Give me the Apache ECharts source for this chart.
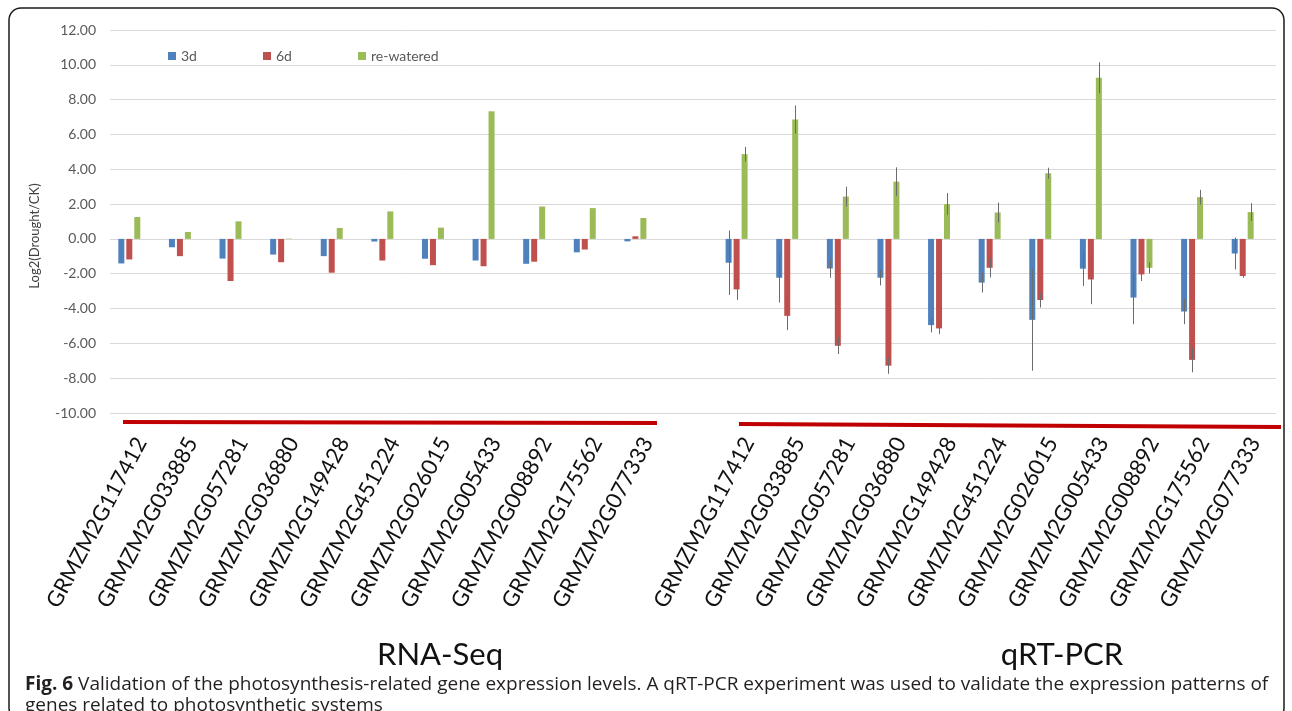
<!DOCTYPE html>
<html>
<head>
<meta charset="utf-8">
<script src="https://cdn.jsdelivr.net/npm/echarts@6/dist/echarts.min.js"></script>
<style>
html,body{margin:0;padding:0;background:#fff;}
#chart{width:1292px;height:711px;}
</style>
</head>
<body>
<div id="chart"></div>
<script>
// ---- data ----
const genes = ['GRMZM2G117412','GRMZM2G033885','GRMZM2G057281','GRMZM2G036880','GRMZM2G149428','GRMZM2G451224','GRMZM2G026015','GRMZM2G005433','GRMZM2G008892','GRMZM2G175562','GRMZM2G077333'];
const seriesNames = ['3d','6d','re-watered'];
const yTicks = {min:-10, max:12, interval:2};

// RNA-Seq (log2 fold change)
const rna3d = [-1.41,-0.48,-1.13,-0.90,-0.99,-0.15,-1.14,-1.24,-1.43,-0.77,-0.14];
const rna6d = [-1.18,-0.99,-2.42,-1.34,-1.94,-1.24,-1.51,-1.57,-1.31,-0.61,0.15];
const rnaRw = [1.26,0.40,1.01,0.02,0.63,1.58,0.65,7.33,1.86,1.77,1.20];

// qRT-PCR
const q3d = [-1.37,-2.23,-1.70,-2.23,-4.95,-2.51,-4.65,-1.71,-3.37,-4.17,-0.84];
const q6d = [-2.90,-4.42,-6.14,-7.28,-5.14,-1.66,-3.51,-2.33,-2.04,-6.95,-2.13];
const qRw = [4.87,6.86,2.43,3.29,2.00,1.52,3.77,9.26,-1.66,2.40,1.54];
const q3dErr = [1.85,1.43,0.53,0.44,0.42,0.57,2.92,1.00,1.53,0.73,0.91];
const q6dErr = [0.60,0.82,0.47,0.47,0.33,0.55,0.43,1.42,0.38,0.71,0.10];
const qRwErr = [0.42,0.81,0.57,0.82,0.63,0.57,0.32,0.89,0.32,0.42,0.51];

// ---- build ----
const categories = genes.concat([''], genes);
const qStart = genes.length + 1;
const vals = [rna3d.concat([null], q3d), rna6d.concat([null], q6d), rnaRw.concat([null], qRw)];
const errs = [q3dErr, q6dErr, qRwErr];
const qVals = [q3d, q6d, qRw];
const colors = ['#4F81BD','#C0504D','#9BBB59'];
const offsets = [-8, 0, 8];

const chart = echarts.init(document.getElementById('chart'), null, {renderer:'canvas'});

const series = [];
seriesNames.forEach((n, k) => {
  series.push({
    name: n, type: 'bar', xAxisIndex: 1, yAxisIndex: 1,
    data: vals[k], barWidth: 6, barGap: '33%',
    itemStyle: {color: colors[k]}, silent: true
  });
});
seriesNames.forEach((n, k) => {
  series.push({
    type: 'custom', xAxisIndex: 1, yAxisIndex: 1, silent: true, z: 5,
    data: qVals[k].map((v, j) => [qStart + j, v, errs[k][j]]),
    renderItem: function (params, api) {
      const i = api.value(0), v = api.value(1), e = api.value(2);
      const p1 = api.coord([i, v + e]);
      const p2 = api.coord([i, v - e]);
      const x = Math.round(p1[0] + offsets[k]) + 0.5;
      return {type: 'line', shape: {x1: x, y1: p1[1], x2: x, y2: p2[1]},
              style: {stroke: '#6b6b6b', lineWidth: 1}};
    }
  });
});

const legendBase = {top: 44, itemWidth: 8, itemHeight: 8, icon: 'rect', itemGap: 0,
  textStyle: {fontFamily: 'Lato', fontSize: 14, color: '#595959'}, selectedMode: false};

const option = {
  animation: false,
  backgroundColor: '#fff',
  legend: [
    Object.assign({}, legendBase, {data: ['3d'], left: 163}),
    Object.assign({}, legendBase, {data: ['6d'], left: 258}),
    Object.assign({}, legendBase, {data: ['re-watered'], left: 353})
  ],
  grid: [
    {left: 110, right: 16, top: 30, height: 383},
    {left: 104, width: 1164, top: 30, height: 383},
    {left: 116, width: 1164, top: 30, height: 383}
  ],
  xAxis: [
    {gridIndex: 0, type: 'category', data: categories, show: false},
    {gridIndex: 1, type: 'category', data: categories, axisLine: {show: false}, axisTick: {show: false}, axisLabel: {show: false}},
    {gridIndex: 2, type: 'category', data: categories, axisLine: {show: false}, axisTick: {show: false},
      axisLabel: {rotate: 62, margin: 26, interval: 0, fontFamily: 'Lato', fontSize: 22, color: '#111'}}
  ],
  yAxis: [
    {gridIndex: 0, type: 'value', min: yTicks.min, max: yTicks.max, interval: yTicks.interval,
      axisLine: {show: false}, axisTick: {show: false},
      axisLabel: {formatter: v => v.toFixed(2), fontFamily: 'Lato', fontSize: 14, color: '#595959', margin: 14},
      splitLine: {lineStyle: {color: '#D9D9D9', width: 1}}},
    {gridIndex: 1, type: 'value', min: yTicks.min, max: yTicks.max, interval: yTicks.interval, show: false, splitLine: {show: false}},
    {gridIndex: 2, type: 'value', min: yTicks.min, max: yTicks.max, interval: yTicks.interval, show: false, splitLine: {show: false}}
  ],
  series: series,
  graphic: [
    {type: 'rect', shape: {x: 9, y: 8, width: 1275, height: 712, r: 12}, style: {fill: null, stroke: '#1a1a1a', lineWidth: 1.5}, z: 100},
    {type: 'line', shape: {x1: 123, y1: 422, x2: 657, y2: 423}, style: {stroke: '#C00000', lineWidth: 4}, z: 50},
    {type: 'line', shape: {x1: 739, y1: 424, x2: 1281, y2: 427}, style: {stroke: '#C00000', lineWidth: 4}, z: 50},
    {type: 'text', x: 35, y: 236, rotation: Math.PI / 2, style: {text: 'Log2(Drought/CK)', fontFamily: 'Lato', fontSize: 13, fill: '#404040', align: 'center', verticalAlign: 'middle'}},
    {type: 'text', x: 440, y: 655, style: {text: 'RNA-Seq', fontFamily: 'Lato', fontSize: 31, fill: '#111', align: 'center', verticalAlign: 'middle'}},
    {type: 'text', x: 1062, y: 655, style: {text: 'qRT-PCR', fontFamily: 'Lato', fontSize: 31, fill: '#111', align: 'center', verticalAlign: 'middle'}},
    {type: 'text', x: 25, y: 674, style: {
      text: '{b|Fig. 6} Validation of the photosynthesis-related gene expression levels. A qRT-PCR experiment was used to validate the expression patterns of\ngenes related to photosynthetic systems',
      fontFamily: 'Open Sans', fontSize: 19, fill: '#231F20', lineHeight: 21,
      rich: {b: {fontFamily: 'Open Sans', fontSize: 19, fontWeight: 'bold', fill: '#231F20'}}
    }}
  ]
};
chart.setOption(option);
</script>
</body>
</html>
